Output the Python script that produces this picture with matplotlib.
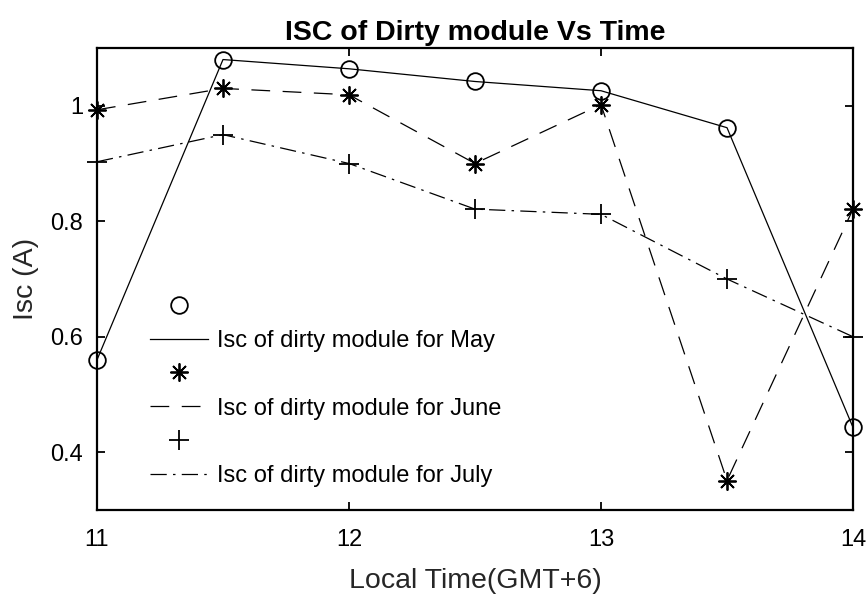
import matplotlib
matplotlib.use("Agg")
import matplotlib.pyplot as plt
from matplotlib.lines import Line2D

plt.rcParams['font.family'] = ['Liberation Sans', 'DejaVu Sans']

time = [11, 11.5, 12, 12.5, 13, 13.5, 14]
may = [0.56, 1.08, 1.064, 1.042, 1.026, 0.962, 0.443]
june = [0.993, 1.03, 1.019, 0.90, 1.002, 0.351, 0.821]
july = [0.903, 0.95, 0.90, 0.821, 0.812, 0.70, 0.60]
labels = ['Isc of dirty module for May', 'Isc of dirty module for June', 'Isc of dirty module for July']
xticks = [11, 12, 13, 14]
yticks = [0.4, 0.6, 0.8, 1.0]
yticklabels = ['0.4', '0.6', '0.8', '1']

fig = plt.figure(figsize=(8.68, 5.94), dpi=100)
ax = fig.add_axes([97/868, 84/594, 756/868, 462/594])

star = (8, 2, 0)
dash = (0, (15, 10))
dashdot = (0, (13, 5, 2, 5))
ax.plot(time, may, color='black', lw=0.9, ls='-', marker='o', ms=12, mfc='none', mew=1.3, clip_on=False)
ax.plot(time, june, color='black', lw=0.9, ls=dash, marker=star, ms=13, mew=1.3, clip_on=False)
ax.plot(time, july, color='black', lw=0.9, ls=dashdot, marker='+', ms=15, mew=1.3, clip_on=False)

ax.set_xlim(11, 14)
ax.set_ylim(0.3, 1.1)
ax.set_xticks(xticks)
ax.set_xticklabels([str(t) for t in xticks])
ax.set_yticks(yticks)
ax.set_yticklabels(yticklabels)
ax.tick_params(direction='in', length=6, width=1.3, top=True, right=True, labelsize=17, pad=10, colors='black')
ax.tick_params(axis='x', pad=14)
for s in ax.spines.values():
    s.set_linewidth(1.6)

ax.set_xlabel('Local Time(GMT+6)', fontsize=20.5, color='#262626', labelpad=12)
ax.set_ylabel('Isc (A)', fontsize=20.5, color='#262626', labelpad=8)
ax.set_title('ISC of Dirty module Vs Time', fontsize=20.5, fontweight='bold', pad=6)

handles = [
    Line2D([], [], color='black', ls='none', marker='o', ms=12, mfc='none', mew=1.3),
    Line2D([], [], color='black', lw=0.9, ls='-'),
    Line2D([], [], color='black', ls='none', marker=star, ms=13, mew=1.3),
    Line2D([], [], color='black', lw=0.9, ls=dash),
    Line2D([], [], color='black', ls='none', marker='+', ms=15, mew=1.3),
    Line2D([], [], color='black', lw=0.9, ls=dashdot),
]
leg_labels = ['', labels[0], '', labels[1], '', labels[2]]
ax.legend(handles, leg_labels, loc='upper left', bbox_to_anchor=(0.07, 0.463), frameon=False,
          handlelength=2.45, handletextpad=0.4, labelspacing=0.5, borderpad=0, borderaxespad=0,
          prop={'size': 17})

fig.savefig('out.png', dpi=100)
